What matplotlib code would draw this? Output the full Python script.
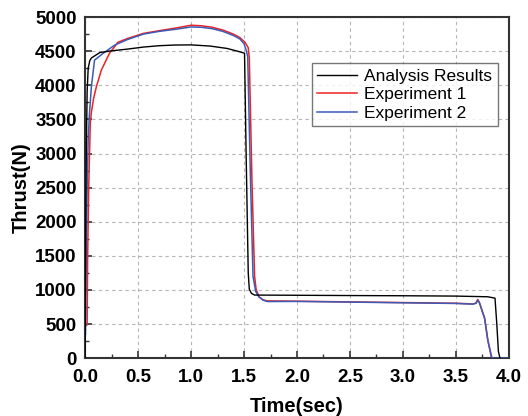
import numpy as np
import matplotlib
matplotlib.use("Agg")
import matplotlib.pyplot as plt
from matplotlib.ticker import MultipleLocator, FormatStrFormatter

plt.rcParams['font.family'] = ['Liberation Sans', 'DejaVu Sans']

# analysis results (time in s, thrust in N)
t_ana = [0.0, 0.005, 0.012, 0.02, 0.03, 0.045, 0.06, 0.14, 0.25, 0.4, 0.55, 0.7,
         0.85, 1.0, 1.18, 1.34, 1.45, 1.505, 1.52, 1.54, 1.55, 1.57, 1.6,
         2.0, 2.5, 3.0, 3.5, 3.8, 3.868, 3.885, 3.9, 3.915]
f_ana = [0, 1500, 3000, 3900, 4250, 4360, 4400, 4480, 4505, 4530, 4560, 4580,
         4590, 4592, 4575, 4540, 4495, 4470, 3000, 1250, 1010, 950, 925,
         922, 918, 915, 910, 900, 880, 500, 100, 0]

# experiment 1
t_exp1 = [0.015, 0.02, 0.025, 0.035, 0.05, 0.06, 0.08, 0.107, 0.154, 0.23, 0.31,
          0.4, 0.55, 0.7, 0.86, 1.0, 1.1, 1.2, 1.3, 1.4, 1.46, 1.51, 1.54,
          1.55, 1.575, 1.6, 1.615, 1.625, 1.64, 1.68, 1.72, 2.0, 2.5, 3.0,
          3.5, 3.66, 3.69, 3.705, 3.72, 3.77, 3.80, 3.835, 3.9, 3.99]
f_exp1 = [480, 500, 1500, 2500, 3450, 3600, 3800, 3977, 4222, 4467, 4630,
          4685, 4760, 4800, 4840, 4880, 4872, 4850, 4810, 4750, 4700, 4630, 4550,
          4400, 2600, 1200, 1000, 970, 900, 855, 840, 835, 825, 815,
          805, 795, 810, 860, 820, 590, 270, 0, 0, 0]

# experiment 2
t_exp2 = [0.005, 0.012, 0.02, 0.03, 0.04, 0.06, 0.09, 0.17, 0.28, 0.4, 0.55,
          0.7, 0.86, 1.0, 1.1, 1.2, 1.3, 1.4, 1.46, 1.5, 1.52, 1.535, 1.56,
          1.585, 1.61, 1.64, 1.68, 1.72, 2.0, 2.5, 3.0, 3.5, 3.66, 3.69,
          3.705, 3.72, 3.77, 3.80, 3.84, 3.9, 3.99]
f_exp2 = [350, 1500, 2500, 3200, 3537, 3977, 4369, 4467, 4589, 4670, 4750,
          4790, 4822, 4855, 4850, 4830, 4790, 4730, 4680, 4610, 4520, 4420, 2700,
          1200, 980, 900, 850, 830, 832, 822, 812, 802, 792, 805,
          850, 815, 580, 260, 0, 0, 0]

fig = plt.figure(figsize=(5.28, 4.16), dpi=100)
ax = fig.add_axes([0.161, 0.139, 0.803, 0.820])

ax.plot(t_ana, f_ana, color='black', lw=1.0, label='Analysis Results', zorder=4)
ax.plot(t_exp1, f_exp1, color='#ee2222', lw=1.1, label='Experiment 1', zorder=2)
ax.plot(t_exp2, f_exp2, color='#3a5bb8', lw=1.1, label='Experiment 2', zorder=3)

ax.set_xlim(0, 4.0)
ax.set_ylim(0, 5000)
ax.xaxis.set_major_locator(MultipleLocator(0.5))
ax.xaxis.set_minor_locator(MultipleLocator(0.25))
ax.xaxis.set_major_formatter(FormatStrFormatter('%.1f'))
ax.yaxis.set_major_locator(MultipleLocator(500))
ax.yaxis.set_minor_locator(MultipleLocator(250))
ax.tick_params(which='major', direction='in', length=5, width=1.2,
               labelsize=13.5, colors='#333333', labelcolor='black')
ax.tick_params(axis='x', which='major', pad=8)
ax.tick_params(axis='y', which='major', pad=6)
ax.tick_params(which='minor', direction='in', length=3, width=1.0, colors='#333333')
for lab in ax.get_xticklabels() + ax.get_yticklabels():
    lab.set_fontweight('bold')

ax.grid(True, which='major', color='#b5b5b5', lw=0.8, linestyle=(0, (3, 3)))
for s in ax.spines.values():
    s.set_color('#333333')
    s.set_linewidth(1.5)

ax.set_xlabel('Time(sec)', fontsize=14.5, fontweight='bold', labelpad=8)
ax.set_ylabel('Thrust(N)', fontsize=14.5, fontweight='bold', labelpad=3)

leg = ax.legend(loc='upper left', bbox_to_anchor=(0.536, 0.864), fontsize=12.5,
                frameon=True, fancybox=False, edgecolor='#555555',
                handlelength=2.3, handletextpad=0.4, borderpad=0.3,
                labelspacing=0.2, borderaxespad=0)
leg.get_frame().set_linewidth(1.0)

fig.savefig('out.png', dpi=100)
